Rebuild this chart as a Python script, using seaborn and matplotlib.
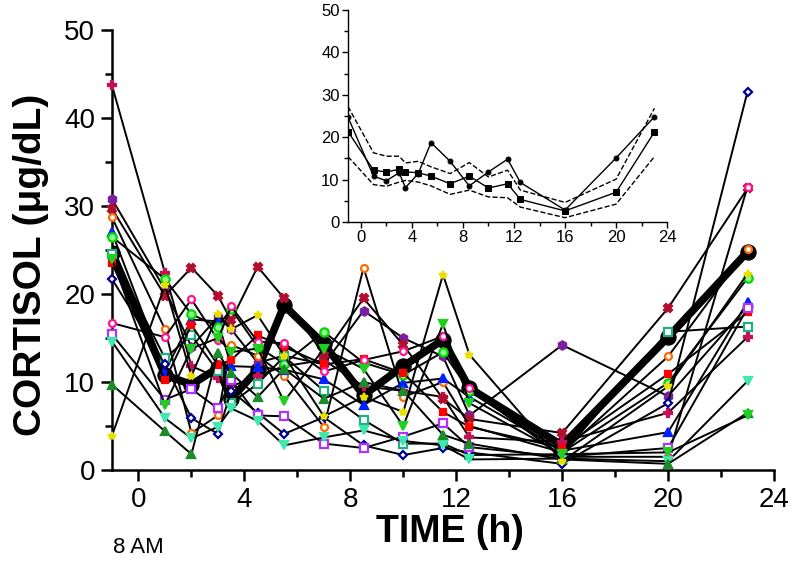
import pandas as pd
import seaborn as sns
import matplotlib.pyplot as plt
from matplotlib.ticker import MultipleLocator
import matplotlib.transforms as mtransforms

# sampling times (h), 8 AM = 0
times = [-1, 1, 2, 3, 3.5, 4.5, 5.5, 7, 8.5, 10, 11.5, 12.5, 16, 20, 23]

# individual subjects (cortisol, ug/dL)
subj_crimson = [43.7, 22.4, 11.8, 10.5, 9.5, 10.7, 11.8, 12.5, 9.5, 9.0, 8.3, 3.7, 3.2, 6.5, 15.1]
subj_purple = [30.8, 20.5, 14.0, 17.4, 16.0, 12.2, 13.0, 12.0, 18.1, 15.0, 12.9, 6.2, 14.2, 8.4, 18.6]
subj_darkred = [29.7, 19.8, 23.0, 19.8, 17.0, 23.1, 19.5, 13.1, 19.5, 14.2, 8.1, 5.8, 4.2, 18.4, 32.0]
subj_orange = [28.7, 16.0, 4.2, 6.2, 14.2, 13.0, 10.7, 4.9, 23.0, 8.3, 10.0, 5.0, 2.0, 12.9, 25.1]
subj_blue = [27.0, 11.2, 17.1, 16.9, 11.8, 11.7, 11.4, 10.3, 7.4, 9.9, 10.4, 8.3, 2.2, 4.3, 19.1]
subj_lime = [26.5, 21.7, 17.7, 16.3, 18.3, 14.0, 12.1, 15.7, 12.2, 10.8, 13.4, 9.0, 2.0, 9.9, 21.8]
subj_teal = [24.6, 12.7, 15.3, 11.2, 7.6, 9.8, 12.9, 9.0, 5.7, 3.0, 3.0, 1.7, 1.8, 15.7, 16.3]
subj_red = [23.5, 10.2, 16.5, 11.9, 12.5, 15.3, 14.0, 12.0, 12.6, 11.0, 6.6, 4.9, 2.5, 10.9, 17.9]
subj_navy = [21.7, 12.0, 5.9, 4.1, 9.0, 6.5, 4.1, 6.0, 2.8, 1.7, 2.5, 2.0, 0.7, 7.6, 43.0]
subj_pink = [16.7, 15.1, 19.4, 14.8, 18.6, 14.6, 14.4, 11.2, 12.5, 13.5, 15.2, 9.3, 1.5, 1.5, 32.2]
subj_violet = [15.4, 8.0, 9.2, 7.0, 10.2, 6.2, 6.1, 3.0, 2.5, 3.8, 5.3, 2.6, 1.5, 2.5, 18.4]
subj_aqua = [14.6, 5.9, 3.6, 4.9, 7.0, 5.6, 2.8, 3.7, 4.5, 3.3, 2.8, 1.2, 1.3, 1.0, 10.1]
subj_dkgreen = [9.7, 4.4, 1.8, 13.3, 11.0, 8.3, 11.5, 8.1, 10.0, 9.0, 4.0, 3.0, 1.2, 0.7, 6.5]
subj_yellow = [3.9, 21.0, 10.7, 17.7, 16.0, 17.6, 13.0, 6.1, 8.3, 6.6, 22.2, 13.1, 1.0, 9.5, 22.3]
subj_green = [24.0, 7.4, 13.8, 15.0, 13.4, 13.8, 7.8, 13.8, 11.5, 5.0, 16.6, 7.6, 1.8, 2.0, 6.2]

# group summary (inset)
mean_cortisol = [24.7, 10.8, 9.7, 11.6, 8.1, 11.4, 18.7, 14.3, 8.5, 11.8, 14.8, 9.3, 2.8, 15.1, 24.8]
median_cortisol = [21.3, 12.2, 11.8, 12.4, 11.8, 11.6, 10.8, 9.0, 10.8, 8.0, 9.0, 5.3, 2.6, 7.0, 21.2]
upper_band = [27.2, 16.3, 15.5, 15.5, 13.9, 14.3, 13.0, 11.4, 14.0, 10.6, 12.2, 7.5, 4.6, 10.1, 26.8]
lower_band = [15.4, 8.8, 8.4, 9.4, 9.8, 9.4, 8.5, 6.5, 7.5, 5.9, 5.7, 3.5, 1.0, 4.2, 15.4]

# marker styles: (marker, edge colour, face colour, size)
subjects = [
    (subj_crimson, 'P', '#c8105a', '#c8105a', 6),
    (subj_purple, 'h', '#7a1fa0', '#7a1fa0', 6),
    (subj_darkred, 'X', '#b01030', '#b01030', 6),
    (subj_orange, 'o', '#ff6a00', 'white', 5),
    (subj_blue, '^', '#0020ff', '#0020ff', 6),
    (subj_lime, 'o', '#00d800', '#90ff90', 6),
    (subj_teal, 's', '#20b080', 'white', 6),
    (subj_red, 's', '#ff0000', '#ff0000', 4.5),
    (subj_navy, 'D', '#000090', 'white', 4.5),
    (subj_pink, 'o', '#ff1493', 'white', 5),
    (subj_violet, 's', '#b030ff', 'white', 6),
    (subj_aqua, 'v', '#40e8b0', '#40e8b0', 6),
    (subj_dkgreen, '^', '#1a8c2a', '#1a8c2a', 6),
    (subj_yellow, '*', '#e8e000', '#e8e000', 6),
    (subj_green, 'v', '#20d020', '#20d020', 6),
]

sns.set_style('ticks')
plt.rcParams['font.family'] = ['Liberation Sans', 'DejaVu Sans']
plt.rcParams.update({'text.color': 'black', 'axes.labelcolor': 'black',
                     'xtick.color': 'black', 'ytick.color': 'black',
                     'axes.edgecolor': 'black'})

fig = plt.figure(figsize=(8, 5.84), dpi=100)
ax = fig.add_axes([0.14, 0.1952, 0.8275, 0.7534])

# mean curve (thick)
sns.lineplot(x=times, y=mean_cortisol, color='black', lw=5.5, marker='o',
             markersize=11, markerfacecolor='black', markeredgecolor='black',
             ax=ax, zorder=2)

for vals, m, ec, fc, ms in subjects:
    sns.lineplot(x=times, y=vals, color='black', lw=1.4, marker=m,
                 markersize=ms, markeredgecolor=ec, markerfacecolor=fc,
                 markeredgewidth=1.6, ax=ax, zorder=3, clip_on=False)

ax.set_xlim(-1, 24)
ax.set_ylim(0, 50)
ax.xaxis.set_major_locator(MultipleLocator(4))
ax.xaxis.set_minor_locator(MultipleLocator(2))
ax.yaxis.set_major_locator(MultipleLocator(10))
ax.yaxis.set_minor_locator(MultipleLocator(5))
ax.tick_params(which='major', length=8, width=1.8, labelsize=20, pad=4)
ax.tick_params(which='minor', length=5, width=1.8)
sns.despine(ax=ax)
for sp in ['left', 'bottom']:
    ax.spines[sp].set_linewidth(1.8)

ax.set_ylabel('CORTISOL (\u03bcg/dL)', fontsize=28, fontweight='bold')
ax.yaxis.set_label_coords(-0.095, 0.466)
ax.set_xlabel('TIME (h)', fontsize=27, fontweight='bold')
ax.xaxis.set_label_coords(0.51, -0.1)
trans = mtransforms.blended_transform_factory(ax.transData, ax.transAxes)
ax.text(0, -0.175, '8 AM', transform=trans, ha='center', va='center', fontsize=16)

# inset: group mean / median with band
ax_in = fig.add_axes([0.435, 0.620, 0.399, 0.363])
ax_in.patch.set_alpha(0)
sns.lineplot(x=times, y=upper_band, color='black', lw=1, linestyle='--', ax=ax_in)
sns.lineplot(x=times, y=lower_band, color='black', lw=1, linestyle='--', ax=ax_in)
sns.lineplot(x=times, y=mean_cortisol, color='black', lw=1, marker='o',
             markersize=3.5, markeredgecolor='black', ax=ax_in)
sns.lineplot(x=times, y=median_cortisol, color='black', lw=1, marker='s',
             markersize=5, markeredgecolor='black', ax=ax_in)
ax_in.set_xlim(-1, 24)
ax_in.set_ylim(0, 50)
ax_in.xaxis.set_major_locator(MultipleLocator(4))
ax_in.xaxis.set_minor_locator(MultipleLocator(2))
ax_in.yaxis.set_major_locator(MultipleLocator(10))
ax_in.yaxis.set_minor_locator(MultipleLocator(5))
ax_in.tick_params(which='major', length=4, width=1, labelsize=12, pad=2)
ax_in.tick_params(which='minor', length=3, width=1)
sns.despine(ax=ax_in)
for sp in ['left', 'bottom']:
    ax_in.spines[sp].set_linewidth(1)

fig.savefig('out.png', dpi=100)
